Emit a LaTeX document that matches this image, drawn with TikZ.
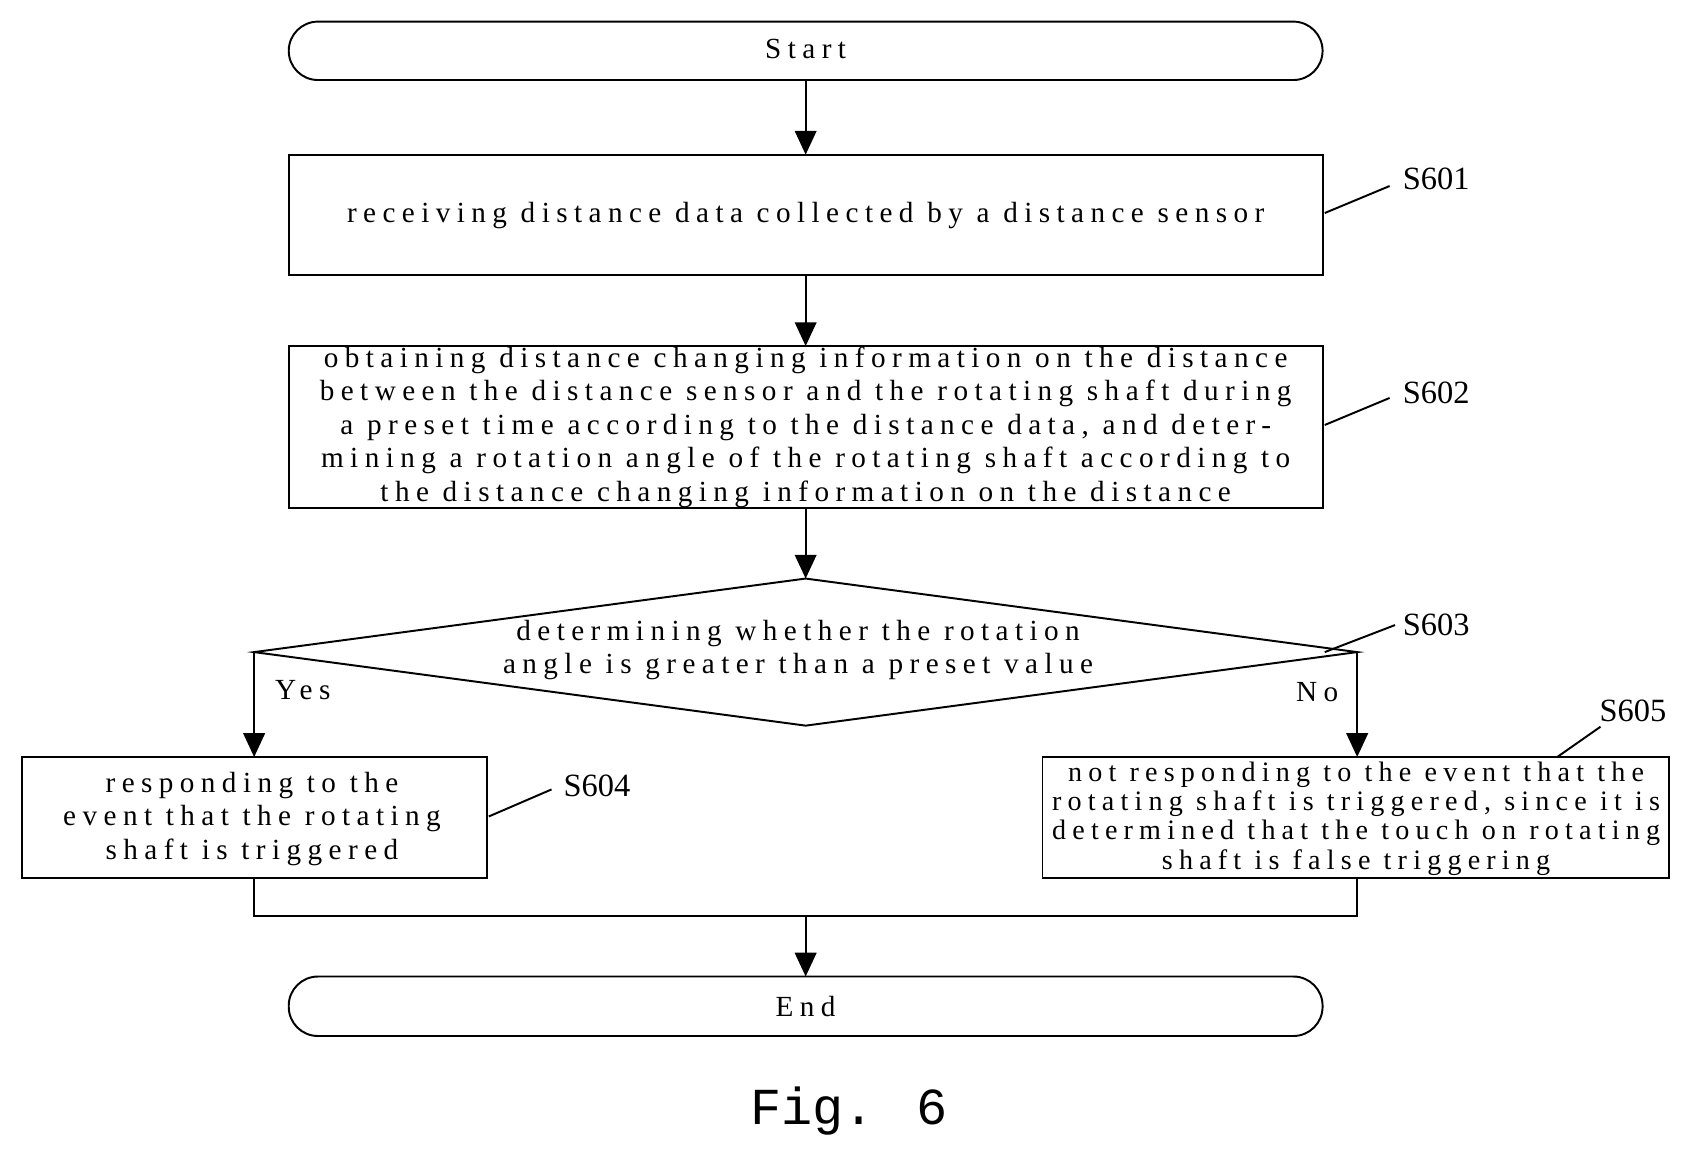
\documentclass[tikz,border=0pt]{standalone}
\usepackage{fontspec}
\setmainfont{Liberation Serif}[LetterSpace=22]
\newfontfamily\figfont{Liberation Mono}
\usetikzlibrary{shapes.geometric,arrows.meta}
\begin{document}
\begin{tikzpicture}[x=1pt,y=-1pt,
  every node/.style={font=\fontsize{27}{31}\selectfont, inner sep=0pt},
  box/.style={draw, line width=1.8pt, align=center},
  term/.style={draw, line width=1.8pt, rounded corners=27pt},
  lbl/.style={font=\fontsize{30}{34}\selectfont\addfontfeatures{LetterSpace=0}},
  ln/.style={line width=1.8pt},
  arr/.style={line width=1.8pt, -{Triangle[length=22pt,width=20pt]}}]
\useasboundingbox (0,0) rectangle (1560,1070);
\draw[term] (267,20) rectangle (1223,74);
\node (start) at (745,45) {Start};
\draw[box] (267,143) rectangle (1223,254);
\node (s601) at (745,199) {receiving distance data collected by a distance sensor};
\draw[box] (267,320) rectangle (1223,470);
\node (s602) [align=center] at (745,395) {obtaining distance changing information on the distance\\between the distance sensor and the rotating shaft during\\a preset time according to the distance data, and deter-\\mining a rotation angle of the rotating shaft according to\\the distance changing information on the distance};
\draw[ln] (745,535) -- (1255,603) -- (745,671) -- (235,603) -- cycle;
\node (s603) [align=center] at (738,601) {determining whether the rotation\\angle is greater than a preset value};
\draw[box] (20,700) rectangle (450,812);
\node (s604) [align=center] at (233,757) {responding to the\\event that the rotating\\shaft is triggered};
\draw[box] (964,700) rectangle (1543,812);
\node (s605) [align=center,font=\fontsize{26}{27}\selectfont] at (1254,757) {not responding to the event that the\\rotating shaft is triggered, since it is\\determined that the touch on rotating\\shaft is false triggering};
\draw[term] (267,903) rectangle (1223,958);
\node (end) at (745,931) {End};
\node[lbl] (l1) at (1328,165) {S601};
\node[lbl] (l2) at (1328,363) {S602};
\node[lbl] (l3) at (1328,578) {S603};
\node[lbl] (l4) at (552,727) {S604};
\node[lbl] (l5) at (1510,657) {S605};
\draw[ln] (1225,197) -- (1285,172);
\draw[ln] (1225,393) -- (1285,368);
\draw[ln] (1225,603) -- (1290,578);
\draw[ln] (452,755) -- (510,730);
\draw[ln] (1440,700) -- (1480,672);
\node (yes) at (280,638) {Yes};
\node (no) at (1218,640) {No};
\draw[arr] (745,74) -- (745,143);
\draw[arr] (745,254) -- (745,320);
\draw[arr] (745,470) -- (745,535);
\draw[arr] (235,603) -- (235,700);
\draw[arr] (1255,603) -- (1255,700);
\draw[ln] (235,812) -- (235,847) -- (1255,847) -- (1255,812);
\draw[arr] (745,847) -- (745,903);
\node[font=\figfont\fontsize{48}{56}\selectfont] (fig) at (785,1027) {Fig. 6};
\end{tikzpicture}
\end{document}
